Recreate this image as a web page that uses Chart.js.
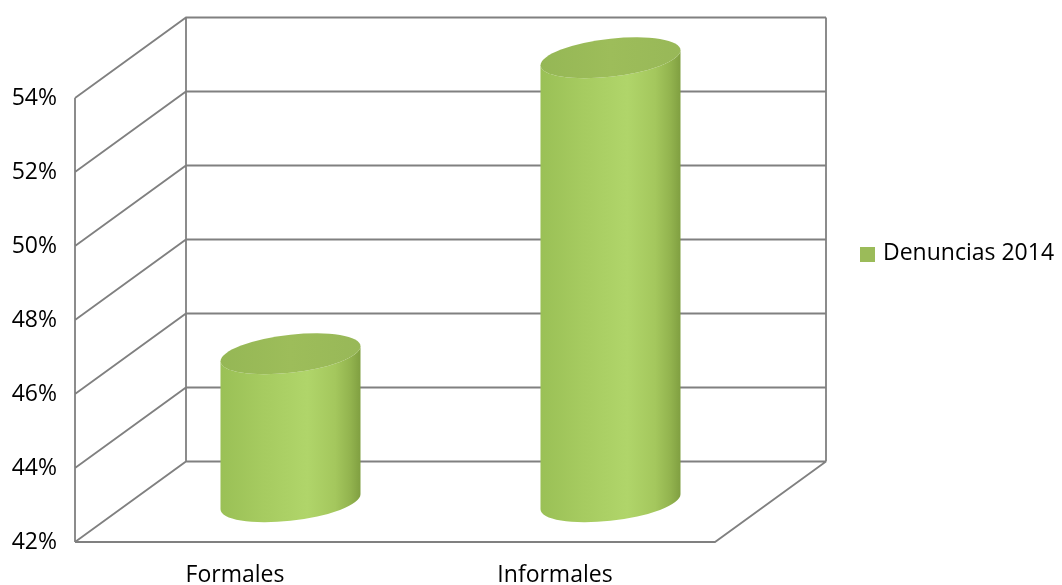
<!DOCTYPE html>
<html>
<head>
<meta charset="utf-8">
<script src="https://cdn.jsdelivr.net/npm/chart.js@4"></script>
<style>
  html, body { margin: 0; padding: 0; background: #fff; }
  canvas { display: block; }
</style>
</head>
<body>
<canvas id="denuncias-chart" width="1062" height="585"></canvas>
<script>
const categories = ['Formales', 'Informales'];
const seriesLabel = 'Denuncias 2014';
const values = [46, 54];
const yTicks = [42, 44, 46, 48, 50, 52, 54];

// 3D look: depth offset of the back wall
const DEPTH_X = 111;
const DEPTH_Y = 80.5;
const LINE = '#808080';
const FONT = '"Open Sans", sans-serif';

// walls, floor and gridlines
const wallsPlugin = {
  id: 'walls',
  beforeDatasetsDraw(chart) {
    const { ctx, chartArea: a, scales: { y } } = chart;
    ctx.save();
    ctx.strokeStyle = LINE;
    ctx.lineWidth = 1.8;
    ctx.beginPath();
    yTicks.forEach(t => {
      const py = y.getPixelForValue(t);
      // side wall diagonal
      ctx.moveTo(a.left, py);
      ctx.lineTo(a.left + DEPTH_X, py - DEPTH_Y);
      // back wall line
      ctx.lineTo(a.right + DEPTH_X, py - DEPTH_Y);
    });
    // front left edge
    ctx.moveTo(a.left, a.top);
    ctx.lineTo(a.left, a.bottom);
    // back wall verticals
    ctx.moveTo(a.left + DEPTH_X, a.top - DEPTH_Y);
    ctx.lineTo(a.left + DEPTH_X, a.bottom - DEPTH_Y);
    ctx.moveTo(a.right + DEPTH_X, a.top - DEPTH_Y);
    ctx.lineTo(a.right + DEPTH_X, a.bottom - DEPTH_Y);
    // floor
    ctx.moveTo(a.left, a.bottom);
    ctx.lineTo(a.right, a.bottom);
    ctx.lineTo(a.right + DEPTH_X, a.bottom - DEPTH_Y);
    ctx.stroke();
    ctx.restore();
  }
};

// cylinders drawn on top of the (invisible) bar elements
const cylinderPlugin = {
  id: 'cylinders',
  afterDatasetsDraw(chart) {
    const { ctx, scales: { y } } = chart;
    const meta = chart.getDatasetMeta(0);
    const basePx = y.getPixelForValue(y.min);
    meta.data.forEach(bar => {
      const cx = bar.x + DEPTH_X / 2;
      const topY = bar.y - DEPTH_Y / 2;
      const botY = basePx - DEPTH_Y / 2;
      const rx = 70, ry = 19, tilt = -7.5 / 70;

      const ellipsePath = (cy, start, end, ccw) => {
        ctx.save();
        ctx.transform(1, tilt, 0, 1, cx, cy);
        ctx.ellipse(0, 0, rx, ry, 0, start, end, ccw);
        ctx.restore();
      };

      ctx.save();
      const g = ctx.createLinearGradient(cx - rx, 0, cx + rx, 0);
      g.addColorStop(0, '#9ac056');
      g.addColorStop(0.3, '#a6cb60');
      g.addColorStop(0.62, '#b0d56a');
      g.addColorStop(0.82, '#a4c75d');
      g.addColorStop(0.93, '#92b34e');
      g.addColorStop(1, '#809f41');

      // body
      ctx.beginPath();
      ellipsePath(botY, Math.PI, 0, true);
      ellipsePath(topY, 0, Math.PI, false);
      ctx.closePath();
      ctx.fillStyle = g;
      ctx.fill();

      // top cap
      const tg = ctx.createLinearGradient(cx - rx, 0, cx + rx, 0);
      tg.addColorStop(0, '#95b755');
      tg.addColorStop(0.5, '#9dbd5a');
      tg.addColorStop(1, '#98b858');
      ctx.beginPath();
      ellipsePath(topY, 0, Math.PI * 2, false);
      ctx.fillStyle = tg;
      ctx.fill();
      ctx.restore();
    });
  }
};

// legend on the right
const legendPlugin = {
  id: 'sideLegend',
  afterDraw(chart) {
    const { ctx } = chart;
    const ds = chart.data.datasets[0];
    ctx.save();
    ctx.fillStyle = ds.legendColor;
    ctx.fillRect(860, 247, 15, 15);
    ctx.fillStyle = '#000';
    ctx.font = '23px ' + FONT;
    ctx.textBaseline = 'middle';
    ctx.textAlign = 'left';
    ctx.fillText(ds.label, 883, 253);
    ctx.restore();
  }
};

new Chart(document.getElementById('denuncias-chart'), {
  type: 'bar',
  data: {
    labels: categories,
    datasets: [{
      label: seriesLabel,
      data: values,
      backgroundColor: 'rgba(0,0,0,0)',
      legendColor: '#9bbb59',
      barPercentage: 0.44,
      categoryPercentage: 1
    }]
  },
  options: {
    responsive: false,
    animation: false,
    devicePixelRatio: 1,
    layout: { padding: { top: 98, right: 347, left: 0, bottom: 0 } },
    plugins: {
      legend: { display: false },
      tooltip: { enabled: false }
    },
    scales: {
      x: {
        grid: { display: false },
        border: { display: false },
        ticks: { color: '#000', font: { family: FONT, size: 23 }, padding: 12 },
        afterFit(scale) { scale.height = 43; }
      },
      y: {
        min: 42,
        max: 54,
        grid: { display: false, drawTicks: false },
        border: { display: false },
        afterBuildTicks(scale) { scale.ticks = yTicks.map(v => ({ value: v })); },
        ticks: {
          color: '#000',
          font: { family: FONT, size: 23 },
          padding: 18,
          callback: v => v + '%'
        },
        afterFit(scale) { scale.width = 75; }
      }
    }
  },
  plugins: [wallsPlugin, cylinderPlugin, legendPlugin]
});
</script>
</body>
</html>
